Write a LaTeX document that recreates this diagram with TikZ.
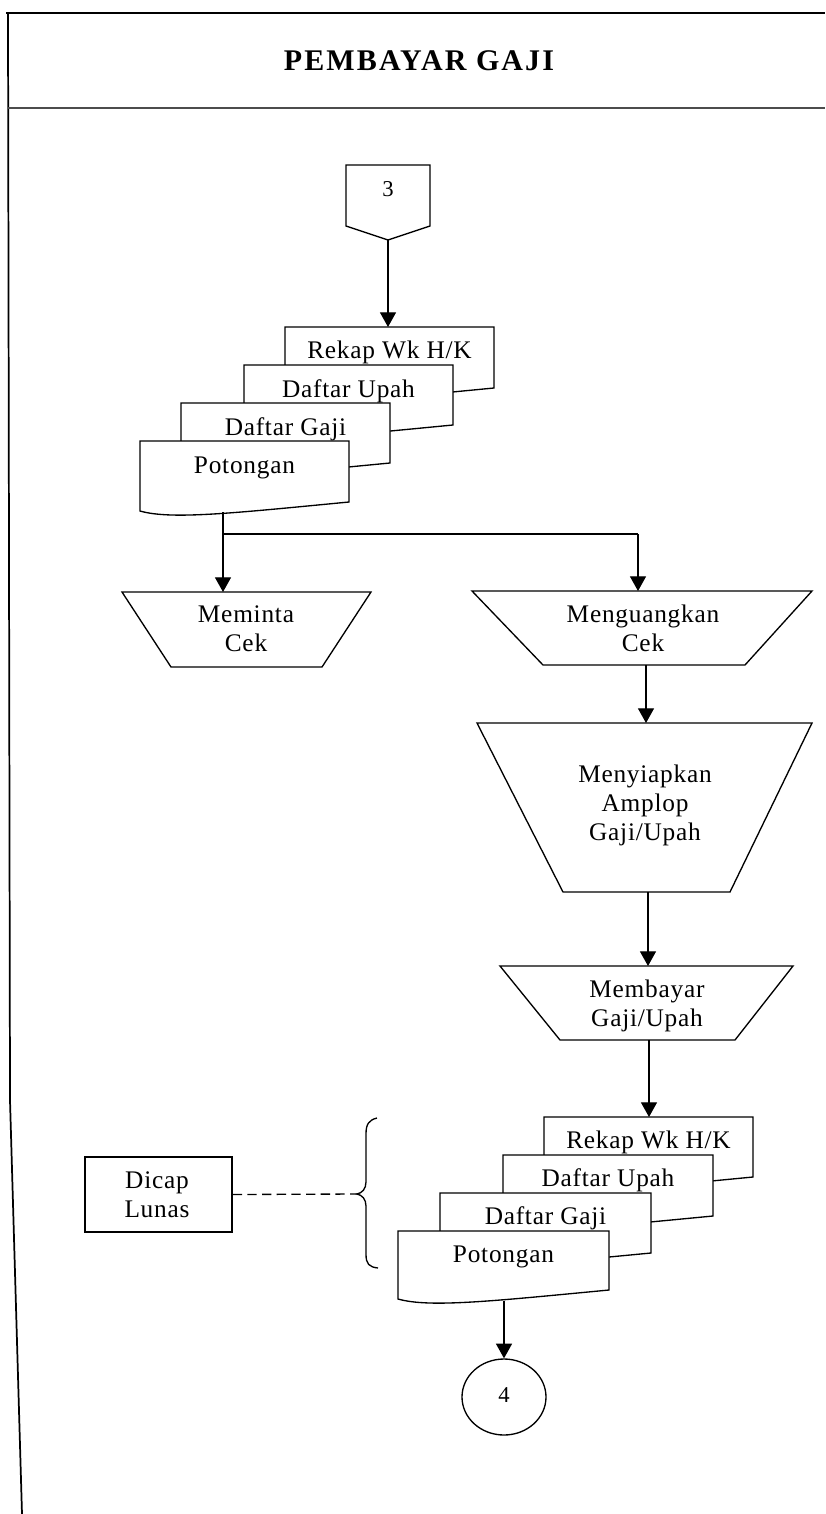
\documentclass[tikz,border=0pt]{standalone}
\usepackage{fontspec}
\setmainfont{Liberation Serif}
\newfontfamily\lblfont[LetterSpace=3]{Liberation Serif}
\newfontfamily\titlefont[LetterSpace=7]{Liberation Serif}
\usetikzlibrary{arrows.meta,shapes.geometric}

% document symbol: #1 left, #2 top, #3 right, #4 bottom at the right edge
\newcommand\docsheet[4]{%
  \draw[shp] (#1,#2) -- (#3,#2) -- (#3,#4)
    .. controls ({#1+0.45*(#3-#1)},{#4+11}) and ({#1+0.15*(#3-#1)},{#4+18}) .. (#1,{#4+9}) -- cycle;}

\tikzset{
  shp/.style={draw, line width=1pt, fill=white, line join=miter},
  flow/.style={line width=0.9pt, -{Triangle[width=12pt,length=11pt]}},
  plain/.style={line width=0.9pt},
  lbl/.style={font=\lblfont\fontsize{19}{21.75}\selectfont, inner sep=0pt, align=center},
  numlbl/.style={font=\lblfont\fontsize{17}{20}\selectfont, inner sep=0pt},
}

\begin{document}
\begin{tikzpicture}[x=0.75pt,y=-0.75pt]
\useasboundingbox (0,0) rectangle (825,1514);
\fill[white] (0,0) rectangle (825,1514);

% frame and header
\draw[line width=1.6pt] (6,13) -- (825,13);
\draw[line width=1.3pt] (8,13) -- (10,1100) -- (22,1514);
\draw[line width=1pt, black!70] (8,108) -- (825,108);
\node[anchor=base, inner sep=0pt, font=\titlefont\bfseries\fontsize{22.5}{26}\selectfont] (title) at (419,70) {PEMBAYAR GAJI};

% off-page connector 3
\draw[shp] (346,165) -- (430,165) -- (430,226) -- (388,240) -- (346,226) -- cycle;
\node[numlbl, anchor=base] (n3) at (388,196) {3};
\coordinate (c3tip) at (388,240);

% first stack of documents
\docsheet{285}{327}{494}{388}
\docsheet{244}{365}{453}{425}
\docsheet{181}{403}{390}{463}
\docsheet{140}{441}{349}{502}
\node[lbl, anchor=base] (dA1) at (389.5,358) {Rekap Wk H/K};
\node[lbl, anchor=base] (dA2) at (348.5,397) {Daftar Upah};
\node[lbl, anchor=base] (dA3) at (285.5,435) {Daftar Gaji};
\node[lbl, anchor=base] (dA4) at (244.5,473) {Potongan};
\coordinate (dAtop) at (388,327);
\coordinate (dAbot) at (223,512);
\coordinate (split) at (223,534);
\coordinate (splitR) at (638,534);

% manual operations
\draw[shp] (122,592) -- (371,592) -- (322,667) -- (171,667) -- cycle;
\node[lbl] (meminta) at (246,631) {\strut Meminta\\\strut Cek};
\coordinate (memintaTop) at (223,592);

\draw[shp] (472,591) -- (812,591) -- (745,665) -- (543,665) -- cycle;
\node[lbl] (menguangkan) at (643,631) {\strut Menguangkan\\\strut Cek};
\coordinate (mengTop) at (638,591);
\coordinate (mengBot) at (646,665);

\draw[shp] (477,723) -- (812,723) -- (730,892) -- (563,892) -- cycle;
\node[lbl] (menyiapkan) at (645,806) {\strut Menyiapkan\\\strut Amplop\\\strut Gaji/Upah};
\coordinate (menyTop) at (646,723);
\coordinate (menyBot) at (648,892);

\draw[shp] (500,966) -- (793,966) -- (735,1040) -- (560,1040) -- cycle;
\node[lbl] (membayar) at (647,1006) {\strut Membayar\\\strut Gaji/Upah};
\coordinate (membTop) at (648,966);
\coordinate (membBot) at (649,1040);

% second stack of documents
\docsheet{544}{1117}{753}{1177}
\docsheet{503}{1155}{713}{1216}
\docsheet{440}{1193}{651}{1253}
\docsheet{398}{1231}{609}{1290}
\node[lbl, anchor=base] (dB1) at (648.5,1148) {Rekap Wk H/K};
\node[lbl, anchor=base] (dB2) at (608,1186) {Daftar Upah};
\node[lbl, anchor=base] (dB3) at (545.5,1224) {Daftar Gaji};
\node[lbl, anchor=base] (dB4) at (503.5,1262) {Potongan};
\coordinate (dBtop) at (649,1117);
\coordinate (dBbot) at (504,1301);

% annotation
\node[draw, line width=1pt, minimum width=110.25pt, minimum height=56.25pt, inner sep=0pt] (dicapbox) at (158.5,1194.5) {};
\node[lbl] (dicap) at (157,1197) {\strut Dicap\\\strut Lunas};
\coordinate (braceTip) at (357,1194);
\draw[line width=1pt] (377,1118) .. controls (369,1120) and (366,1124) .. (366,1134)
  -- (366,1182) .. controls (366,1189) and (362,1193) .. (braceTip)
  .. controls (362,1195) and (366,1199) .. (366,1206)
  -- (366,1254) .. controls (366,1264) and (369,1267) .. (378,1268);

% off-page connector 4
\node[draw, ellipse, line width=1pt, minimum width=63pt, minimum height=57pt, inner sep=0pt] (c4) at (504,1397) {};
\node[numlbl, anchor=base] (n4) at (504,1402) {4};

% connectors
\draw[flow] (c3tip) -- (dAtop);
\draw[plain] (dAbot) -- (split) -- (splitR);
\draw[flow] (split) -- (memintaTop);
\draw[flow] (splitR) -- (mengTop);
\draw[flow] (mengBot) -- (menyTop);
\draw[flow] (menyBot) -- (membTop);
\draw[flow] (membBot) -- (dBtop);
\draw[flow] (dBbot) -- (c4.north);
\draw[line width=1pt, dash pattern=on 7pt off 4pt] (dicapbox.east) -- (braceTip);
\end{tikzpicture}
\end{document}
